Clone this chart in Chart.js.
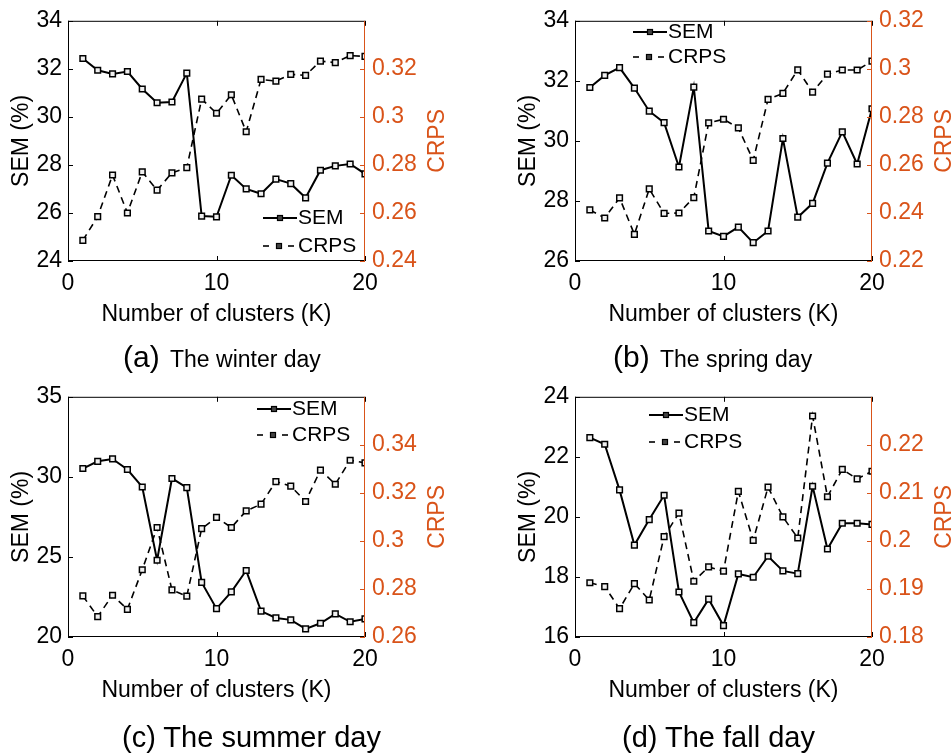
<!DOCTYPE html>
<html>
<head>
<meta charset="utf-8">
<script src="https://cdn.jsdelivr.net/npm/chart.js@4"></script>
<style>
  body { margin: 0; width: 951px; height: 755px; overflow: hidden; position: relative; background: #fff;
         font-family: "Liberation Sans", Arial, sans-serif; color: #000; }
  .panel { position: absolute; width: 500px; height: 376px; }
  .cap { position: absolute; white-space: nowrap; line-height: 30px; }
  .cap.big { font-size: 30px; }
  .cap.big span { font-size: 23px; margin-left: 2px; }
  .cap.all { font-size: 29px; }
</style>
</head>
<body>
<div class="panel" style="left:0;top:0"><canvas id="winter" width="500" height="376"></canvas></div>
<div class="panel" style="left:507px;top:0"><canvas id="spring" width="500" height="376"></canvas></div>
<div class="panel" style="left:0;top:376px"><canvas id="summer" width="500" height="376"></canvas></div>
<div class="panel" style="left:507px;top:376px"><canvas id="fall" width="500" height="376"></canvas></div>

<div class="cap big" style="left:123px;top:342px">(a) <span>The winter day</span></div>
<div class="cap big" style="left:613px;top:342px">(b) <span>The spring day</span></div>
<div class="cap all" style="left:122px;top:722px">(c) The summer day</div>
<div class="cap all" style="left:622px;top:722px">(d) The fall day</div>

<script>
// number of clusters K
const clusters = [1, 2, 3, 4, 5, 6, 7, 8, 9, 10, 11, 12, 13, 14, 15, 16, 17, 18, 19, 20];
const xTicks = [0, 10, 20];

// (a) winter
const semWinter  = [32.43, 31.94, 31.79, 31.89, 31.16, 30.59, 30.62, 31.82, 25.87, 25.84, 27.57, 27.00, 26.80, 27.41, 27.22, 26.63, 27.78, 27.96, 28.04, 27.63];
const crpsWinter = [0.2486, 0.2585, 0.2758, 0.2600, 0.2771, 0.2695, 0.2767, 0.2789, 0.3074, 0.3015, 0.3092, 0.2938, 0.3156, 0.3149, 0.3177, 0.3173, 0.3232, 0.3226, 0.3255, 0.3252];
const semRangeWinter = [24, 34], semTicksWinter = [24, 26, 28, 30, 32, 34];
const crpsRangeWinter = [0.24, 0.34], crpsTicksWinter = [0.24, 0.26, 0.28, 0.30, 0.32];

// (b) spring
const semSpring  = [31.78, 32.18, 32.44, 31.76, 30.99, 30.61, 29.13, 31.79, 27.00, 26.82, 27.13, 26.61, 27.00, 30.08, 27.46, 27.92, 29.26, 30.30, 29.23, 31.07];
const crpsSpring = [0.2413, 0.2379, 0.2463, 0.2311, 0.2500, 0.2398, 0.2400, 0.2464, 0.2775, 0.2790, 0.2754, 0.2619, 0.2873, 0.2898, 0.2996, 0.2903, 0.2978, 0.2995, 0.2995, 0.3032];
const semRangeSpring = [26, 34], semTicksSpring = [26, 28, 30, 32, 34];
const crpsRangeSpring = [0.22, 0.32], crpsTicksSpring = [0.22, 0.24, 0.26, 0.28, 0.30, 0.32];

// (c) summer
const semSummer  = [30.52, 30.97, 31.12, 30.46, 29.37, 24.79, 29.90, 29.33, 23.41, 21.77, 22.82, 24.15, 21.62, 21.19, 21.07, 20.51, 20.86, 21.44, 20.95, 21.13];
const crpsSummer = [0.2771, 0.2685, 0.2774, 0.2715, 0.2880, 0.3056, 0.2796, 0.2770, 0.3051, 0.3098, 0.3056, 0.3125, 0.3153, 0.3247, 0.3228, 0.3164, 0.3295, 0.3236, 0.3336, 0.3325];
const semRangeSummer = [20, 35], semTicksSummer = [20, 25, 30, 35];
const crpsRangeSummer = [0.26, 0.36], crpsTicksSummer = [0.26, 0.28, 0.30, 0.32, 0.34];

// (d) fall
const semFall  = [22.64, 22.42, 20.90, 19.06, 19.91, 20.72, 17.50, 16.48, 17.26, 16.38, 18.10, 17.99, 18.69, 18.20, 18.11, 21.02, 18.93, 19.79, 19.79, 19.75];
const crpsFall = [0.1913, 0.1905, 0.1859, 0.1911, 0.1877, 0.2009, 0.2058, 0.1916, 0.1946, 0.1937, 0.2103, 0.2001, 0.2112, 0.2050, 0.2006, 0.2260, 0.2092, 0.2149, 0.2129, 0.2145];
const semRangeFall = [16, 24], semTicksFall = [16, 18, 20, 22, 24];
const crpsRangeFall = [0.18, 0.23], crpsTicksFall = [0.18, 0.19, 0.20, 0.21, 0.22];

const FONT = '"Liberation Sans", Arial, sans-serif';
const ORANGE = '#D95319';
Chart.defaults.font.family = FONT;
Chart.defaults.color = '#000';

// box, inward ticks, orange right axis, right title and legend
const framePlugin = {
    id: 'frame',
    afterDraw(chart, args, opts) {
        const { ctx, chartArea: a, scales } = chart;
        const seg = (x1, y1, x2, y2) => { ctx.beginPath(); ctx.moveTo(x1, y1); ctx.lineTo(x2, y2); ctx.stroke(); };
        ctx.save();
        ctx.lineWidth = 1;
        ctx.strokeStyle = '#000';
        seg(a.right, a.top + 0.5, a.left + 0.5, a.top + 0.5);
        seg(a.left + 0.5, a.top, a.left + 0.5, a.bottom);
        seg(a.left, a.bottom - 0.5, a.right, a.bottom - 0.5);
        scales.x.ticks.forEach(t => {
            const px = Math.round(scales.x.getPixelForValue(t.value)) + 0.5;
            seg(px, a.bottom, px, a.bottom - 5);
            seg(px, a.top, px, a.top + 5);
        });
        scales.y.ticks.forEach(t => {
            const py = Math.round(scales.y.getPixelForValue(t.value)) + 0.5;
            seg(a.left, py, a.left + 5, py);
        });
        ctx.strokeStyle = ORANGE;
        seg(a.right - 0.5, a.top, a.right - 0.5, a.bottom);
        scales.y1.ticks.forEach(t => {
            const py = Math.round(scales.y1.getPixelForValue(t.value)) + 0.5;
            seg(a.right, py, a.right - 5, py);
        });

        // right axis title, reading bottom to top
        ctx.save();
        ctx.translate(437.5, (a.top + a.bottom) / 2);
        ctx.rotate(-Math.PI / 2);
        ctx.fillStyle = ORANGE;
        ctx.font = '23px ' + FONT;
        ctx.textAlign = 'center';
        ctx.textBaseline = 'middle';
        ctx.fillText('CRPS', 0, 0);
        ctx.restore();

        // legend
        const { x, rows } = opts.legend;
        const mark = (cx, cy) => {
            ctx.fillStyle = '#444';
            ctx.strokeStyle = '#000';
            ctx.lineWidth = 1.2;
            ctx.fillRect(cx - 2.5, cy - 2.5, 5, 5);
            ctx.strokeRect(cx - 2.5, cy - 2.5, 5, 5);
        };
        ctx.strokeStyle = '#000';
        ctx.lineWidth = 2;
        seg(x, rows[0], x + 34, rows[0]);
        mark(x + 17, rows[0]);
        ctx.lineWidth = 1.6;
        ctx.strokeStyle = '#000';
        seg(x, rows[1], x + 6, rows[1]);
        seg(x + 25, rows[1], x + 31, rows[1]);
        mark(x + 16, rows[1]);
        ctx.fillStyle = '#000';
        ctx.font = '21px ' + FONT;
        ctx.textAlign = 'left';
        ctx.textBaseline = 'middle';
        ctx.fillText('SEM', x + 35, rows[0]);
        ctx.fillText('CRPS', x + 35, rows[1]);
        ctx.restore();
    }
};

const series = (vals) => clusters.map((k, i) => ({ x: k, y: vals[i] }));
const fixTicks = (list) => (scale) => { scale.ticks = list.map(v => ({ value: v })); };

function makePanel(id, sem, crps, semRange, semTicks, crpsRange, crpsTicks, legend) {
    const marker = {
        pointStyle: 'rect',
        pointRadius: 4,
        pointHoverRadius: 4,
        pointBackgroundColor: '#f0f0f0',
        pointBorderColor: '#000',
        pointBorderWidth: 1.5
    };
    new Chart(document.getElementById(id), {
        type: 'line',
        data: {
            datasets: [
                { label: 'SEM', data: series(sem), yAxisID: 'y', borderColor: '#000', borderWidth: 2, ...marker },
                { label: 'CRPS', data: series(crps), yAxisID: 'y1', borderColor: '#000', borderWidth: 1.6, borderDash: [7, 5], ...marker }
            ]
        },
        options: {
            responsive: false,
            animation: false,
            events: [],
            layout: { padding: { top: 17, left: 0, right: 0, bottom: 0 } },
            plugins: {
                legend: { display: false },
                tooltip: { enabled: false },
                frame: { legend }
            },
            scales: {
                x: {
                    type: 'linear', min: 0, max: 20,
                    afterBuildTicks: fixTicks(xTicks),
                    afterFit: s => { s.height = 115; },
                    grid: { display: false, drawTicks: false },
                    border: { display: false },
                    ticks: { font: { size: 23 }, color: '#000', padding: 9, maxRotation: 0 },
                    title: { display: true, text: 'Number of clusters (K)', font: { size: 23 }, color: '#000', padding: { top: 0, bottom: 48 } }
                },
                y: {
                    type: 'linear', position: 'left', min: semRange[0], max: semRange[1],
                    afterBuildTicks: fixTicks(semTicks),
                    afterFit: s => { s.width = 68; },
                    grid: { display: false, drawTicks: false },
                    border: { display: false },
                    ticks: { font: { size: 23 }, color: '#000', padding: 6 },
                    title: { display: true, text: 'SEM (%)', font: { size: 23 }, color: '#000', padding: { top: 8, bottom: 0 } }
                },
                y1: {
                    type: 'linear', position: 'right', min: crpsRange[0], max: crpsRange[1],
                    afterBuildTicks: fixTicks(crpsTicks),
                    afterFit: s => { s.width = 135; },
                    grid: { display: false, drawTicks: false },
                    border: { display: false },
                    ticks: { font: { size: 23 }, color: ORANGE, padding: 7, callback: v => String(+v.toFixed(3)) }
                }
            }
        },
        plugins: [framePlugin]
    });
}

makePanel('winter', semWinter, crpsWinter, semRangeWinter, semTicksWinter, crpsRangeWinter, crpsTicksWinter, { x: 263, rows: [218, 246] });
makePanel('spring', semSpring, crpsSpring, semRangeSpring, semTicksSpring, crpsRangeSpring, crpsTicksSpring, { x: 126, rows: [32, 57] });
makePanel('summer', semSummer, crpsSummer, semRangeSummer, semTicksSummer, crpsRangeSummer, crpsTicksSummer, { x: 257, rows: [33, 59] });
makePanel('fall', semFall, crpsFall, semRangeFall, semTicksFall, crpsRangeFall, crpsTicksFall, { x: 142, rows: [39, 66] });
</script>
</body>
</html>
